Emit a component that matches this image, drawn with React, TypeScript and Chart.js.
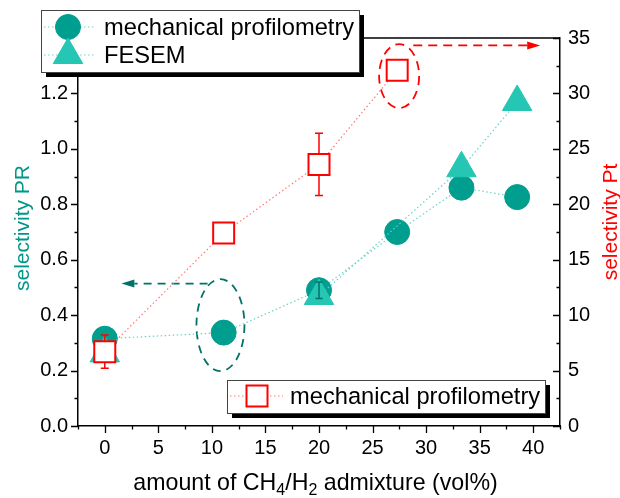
import React, { useEffect, useRef } from 'react';
import { Chart, registerables } from 'chart.js';

Chart.register(...registerables);

// ---------------- data ----------------
const profX = [0, 11.1, 20, 27.3, 33.3, 38.5];
const profPR = [0.315, 0.337, 0.49, 0.7, 0.86, 0.826];
const profPRErr = [0, 0, 0.03, 0, 0, 0];

const fesemX = [0, 20, 33.3, 38.5];
const fesemPR = [0.262, 0.469, 0.93, 1.169];

const ptX = [0, 11.1, 20, 27.3];
const profPt = [6.7, 17.4, 23.6, 32.1];
const profPtErr = [1.5, 0, 2.8, 0];

const xTickLabels = [0, 5, 10, 15, 20, 25, 30, 35, 40];
const prTickLabels = [0, 0.2, 0.4, 0.6, 0.8, 1.0, 1.2];
const ptTickLabels = [0, 5, 10, 15, 20, 25, 30, 35];

const seriesLabels = ['mechanical profilometry', 'FESEM', 'mechanical profilometry'];
const xTitleParts = [
  { text: 'amount of CH', sub: false },
  { text: '4', sub: true },
  { text: '/H', sub: false },
  { text: '2', sub: true },
  { text: ' admixture (vol%)', sub: false },
];
const prTitle = 'selectivity PR';
const ptTitle = 'selectivity Pt';

// highlight marks, in data coordinates
const prMarkCenter = { x: 10.8, y: 0.364 };
const prArrow = { y: 0.514, from: 9.6, to: 1.55 };
const ptMarkCenter = { x: 27.48, y: 31.56 };
const ptArrow = { y: 34.33, from: 28.8, to: 40.65 };

// ---------------- styles ----------------
const FONT = "'Liberation Sans', Arial, sans-serif";
const TEAL = 'rgb(0,158,142)';
const TURQ = 'rgb(38,198,180)';
const TEAL_LINE = 'rgb(105,210,202)';
const TEAL_DARK = 'rgb(0,115,105)';
const TITLE_TEAL = 'rgb(0,150,136)';
const RED = '#ff0000';
const RED_LINE = 'rgb(255,120,120)';
const LEGEND_FONT = 23.7;

function drawMarker(ctx, style, x, y, r, fill, stroke, lw) {
  ctx.save();
  ctx.beginPath();
  if (style === 'circle') {
    ctx.arc(x, y, r, 0, Math.PI * 2);
  } else if (style === 'triangle') {
    let rad = 0;
    ctx.moveTo(x + Math.sin(rad) * r, y - Math.cos(rad) * r);
    rad += (2 * Math.PI) / 3;
    ctx.lineTo(x + Math.sin(rad) * r, y - Math.cos(rad) * r);
    rad += (2 * Math.PI) / 3;
    ctx.lineTo(x + Math.sin(rad) * r, y - Math.cos(rad) * r);
    ctx.closePath();
  } else {
    const s = Math.SQRT1_2 * r;
    ctx.rect(x - s, y - s, 2 * s, 2 * s);
  }
  ctx.fillStyle = fill;
  ctx.fill();
  if (lw > 0) {
    ctx.lineWidth = lw;
    ctx.strokeStyle = stroke;
    ctx.stroke();
  }
  ctx.restore();
}

function dottedLine(ctx, x1, x2, y, color) {
  ctx.save();
  ctx.strokeStyle = color;
  ctx.lineWidth = 1.2;
  ctx.setLineDash([1.5, 2.5]);
  ctx.beginPath();
  ctx.moveTo(x1, y);
  ctx.lineTo(x2, y);
  ctx.stroke();
  ctx.restore();
}

function legendBox(ctx, x, y, w, h) {
  ctx.save();
  ctx.fillStyle = '#000';
  ctx.fillRect(x + 5, y + 5, w, h);
  ctx.fillStyle = '#fff';
  ctx.fillRect(x, y, w, h);
  ctx.strokeStyle = '#444';
  ctx.lineWidth = 1;
  ctx.strokeRect(x + 0.5, y + 0.5, w, h);
  ctx.restore();
}

function errorBars(ctx, xs, ys, errs, xScale, yScale, color, cap) {
  ctx.save();
  ctx.strokeStyle = color;
  ctx.lineWidth = 1.5;
  xs.forEach((xv, i) => {
    const e = errs[i];
    if (!e) return;
    const px = xScale.getPixelForValue(xv);
    const top = yScale.getPixelForValue(ys[i] + e);
    const bot = yScale.getPixelForValue(ys[i] - e);
    ctx.beginPath();
    ctx.moveTo(px, top);
    ctx.lineTo(px, bot);
    ctx.moveTo(px - cap, top);
    ctx.lineTo(px + cap, top);
    ctx.moveTo(px - cap, bot);
    ctx.lineTo(px + cap, bot);
    ctx.stroke();
  });
  ctx.restore();
}

function dashedArrow(ctx, x1, x2, y, color, dash) {
  const dir = Math.sign(x2 - x1);
  const headLen = 13;
  const headHalf = 4;
  ctx.save();
  ctx.strokeStyle = color;
  ctx.fillStyle = color;
  ctx.lineWidth = 1.8;
  ctx.setLineDash(dash);
  ctx.beginPath();
  ctx.moveTo(x1, y);
  ctx.lineTo(x2 - dir * headLen, y);
  ctx.stroke();
  ctx.setLineDash([]);
  ctx.beginPath();
  ctx.moveTo(x2, y);
  ctx.lineTo(x2 - dir * headLen, y - headHalf);
  ctx.lineTo(x2 - dir * headLen, y + headHalf);
  ctx.closePath();
  ctx.fill();
  ctx.restore();
}

function dashedEllipse(ctx, cx, cy, rx, ry, color, dash) {
  ctx.save();
  ctx.strokeStyle = color;
  ctx.lineWidth = 1.8;
  ctx.setLineDash(dash);
  ctx.beginPath();
  ctx.ellipse(cx, cy, rx, ry, 0, 0, Math.PI * 2);
  ctx.stroke();
  ctx.restore();
}

const decorPlugin = {
  id: 'decor',
  beforeDatasetsDraw(chart) {
    const { ctx, chartArea: a, scales } = chart;
    const xs = scales.x;
    const y1 = scales.y;
    const y2 = scales.y2;
    ctx.save();
    ctx.strokeStyle = '#000';
    ctx.lineWidth = 1.5;
    // top frame
    ctx.beginPath();
    ctx.moveTo(a.left, a.top);
    ctx.lineTo(a.right, a.top);
    ctx.stroke();
    ctx.lineWidth = 1.3;
    ctx.beginPath();
    for (let v = -2.5; v <= 42.5 + 1e-9; v += 2.5) {
      const major = Math.abs(v / 5 - Math.round(v / 5)) < 1e-6;
      const px = Math.round(xs.getPixelForValue(v)) + 0.5;
      ctx.moveTo(px, a.bottom);
      ctx.lineTo(px, a.bottom + (major ? 7 : 3.5));
    }
    for (let k = 0; k <= 14; k++) {
      const v = k / 10;
      const major = k % 2 === 0;
      const py = Math.round(y1.getPixelForValue(v)) + 0.5;
      ctx.moveTo(a.left, py);
      ctx.lineTo(a.left - (major ? 7 : 3.5), py);
    }
    for (let v = 0; v <= 35 + 1e-9; v += 2.5) {
      const major = Math.abs(v / 5 - Math.round(v / 5)) < 1e-6;
      const py = Math.round(y2.getPixelForValue(v)) + 0.5;
      ctx.moveTo(a.right, py);
      ctx.lineTo(a.right - (major ? 7 : 3.5), py);
    }
    ctx.stroke();
    ctx.restore();

    // highlight ellipses and arrows
    dashedEllipse(ctx, xs.getPixelForValue(prMarkCenter.x), y1.getPixelForValue(prMarkCenter.y), 24, 46, TEAL_DARK, [8, 6]);
    dashedArrow(ctx, xs.getPixelForValue(prArrow.from), xs.getPixelForValue(prArrow.to), y1.getPixelForValue(prArrow.y), TEAL_DARK, [8, 6]);
    dashedEllipse(ctx, xs.getPixelForValue(ptMarkCenter.x), y2.getPixelForValue(ptMarkCenter.y), 20, 32, RED, [9, 6]);
    dashedArrow(ctx, xs.getPixelForValue(ptArrow.from), xs.getPixelForValue(ptArrow.to), y2.getPixelForValue(ptArrow.y), RED, [9, 6]);
  },
  beforeDatasetDraw(chart, args) {
    if (args.index === 0) {
      errorBars(chart.ctx, ptX, profPt, profPtErr, chart.scales.x, chart.scales.y2, RED, 4);
    }
  },
  afterDatasetDraw(chart, args) {
    if (args.index === 1) {
      errorBars(chart.ctx, profX, profPR, profPRErr, chart.scales.x, chart.scales.y, TEAL_DARK, 3.5);
    }
  },
  afterDraw(chart) {
    const { ctx, chartArea: a } = chart;
    // x axis title with subscripts
    ctx.save();
    const fs = 23.2;
    const subFs = 16;
    let total = 0;
    xTitleParts.forEach((p) => {
      ctx.font = `${p.sub ? subFs : fs}px ${FONT}`;
      total += ctx.measureText(p.text).width;
    });
    let x = 315.5 - total / 2;
    const base = 490;
    ctx.fillStyle = '#000';
    ctx.textBaseline = 'alphabetic';
    ctx.textAlign = 'left';
    xTitleParts.forEach((p) => {
      ctx.font = `${p.sub ? subFs : fs}px ${FONT}`;
      ctx.fillText(p.text, x, p.sub ? base + 5 : base);
      x += ctx.measureText(p.text).width;
    });
    ctx.restore();

    // y titles (both reading upward)
    const cy = (a.top + a.bottom) / 2 - 4;
    ctx.save();
    ctx.font = `21px ${FONT}`;
    ctx.textAlign = 'center';
    ctx.textBaseline = 'alphabetic';
    ctx.fillStyle = TITLE_TEAL;
    ctx.translate(29, cy);
    ctx.rotate(-Math.PI / 2);
    ctx.fillText(prTitle, 0, 0);
    ctx.restore();
    ctx.save();
    ctx.font = `21px ${FONT}`;
    ctx.textAlign = 'center';
    ctx.textBaseline = 'alphabetic';
    ctx.fillStyle = RED;
    ctx.translate(617, cy - 6);
    ctx.rotate(-Math.PI / 2);
    ctx.fillText(ptTitle, 0, 0);
    ctx.restore();

    // legends
    ctx.save();
    ctx.font = `${LEGEND_FONT}px ${FONT}`;
    ctx.textBaseline = 'middle';
    ctx.textAlign = 'left';
    legendBox(ctx, 41, 10, 318, 62);
    dottedLine(ctx, 44, 96, 27, TEAL_LINE);
    drawMarker(ctx, 'circle', 68, 27, 12.5, TEAL, TEAL, 1);
    dottedLine(ctx, 44, 96, 55, TEAL_LINE);
    drawMarker(ctx, 'triangle', 68, 55, 17, TURQ, TURQ, 1);
    ctx.fillStyle = '#000';
    ctx.fillText(seriesLabels[0], 104, 28);
    ctx.fillText(seriesLabels[1], 104, 56);

    legendBox(ctx, 227, 380, 318, 33);
    dottedLine(ctx, 230, 283, 396, RED_LINE);
    drawMarker(ctx, 'rect', 257, 396, 14.85, '#fff', RED, 2);
    ctx.fillStyle = '#000';
    ctx.fillText(seriesLabels[2], 290, 397);
    ctx.restore();
  },
};

export default function App() {
  const ref = useRef<HTMLCanvasElement | null>(null);

  useEffect(() => {
    const canvas = ref.current;
    if (!canvas) return;
    const tickFont = { family: FONT, size: 20 };
    const chart = new Chart(canvas, {
      type: 'scatter',
      data: {
        datasets: [
          {
            label: seriesLabels[2],
            yAxisID: 'y2',
            data: ptX.map((x, i) => ({ x, y: profPt[i] })),
            showLine: true,
            borderColor: RED_LINE,
            borderWidth: 1.2,
            borderDash: [1.5, 2.5],
            pointStyle: 'rect',
            pointRadius: 14.85,
            pointBackgroundColor: '#fff',
            pointBorderColor: RED,
            pointBorderWidth: 2,
            clip: false,
          },
          {
            label: seriesLabels[1],
            yAxisID: 'y',
            data: fesemX.map((x, i) => ({ x, y: fesemPR[i] })),
            showLine: true,
            borderColor: TEAL_LINE,
            borderWidth: 1.2,
            borderDash: [1.5, 2.5],
            segment: {
              borderColor: (c) => (c.p0DataIndex === 0 ? 'rgba(0,0,0,0)' : TEAL_LINE),
            },
            pointStyle: 'triangle',
            pointRadius: 17,
            pointBackgroundColor: TURQ,
            pointBorderColor: TURQ,
            pointBorderWidth: 1,
            clip: false,
          },
          {
            label: seriesLabels[0],
            yAxisID: 'y',
            data: profX.map((x, i) => ({ x, y: profPR[i] })),
            showLine: true,
            borderColor: TEAL_LINE,
            borderWidth: 1.2,
            borderDash: [1.5, 2.5],
            pointStyle: 'circle',
            pointRadius: 12.5,
            pointBackgroundColor: TEAL,
            pointBorderColor: TEAL,
            pointBorderWidth: 1,
            clip: false,
          },
        ],
      },
      options: {
        responsive: true,
        maintainAspectRatio: false,
        animation: false,
        events: [],
        layout: { padding: { top: 38, left: 0, right: 0, bottom: 0 } },
        plugins: {
          legend: { display: false },
          tooltip: { enabled: false },
          title: { display: false },
        },
        scales: {
          x: {
            type: 'linear',
            position: 'bottom',
            min: -2.5,
            max: 42.5,
            afterBuildTicks: (s) => {
              s.ticks = xTickLabels.map((value) => ({ value }));
            },
            afterFit: (s) => {
              s.height = 72;
            },
            grid: { display: false, drawTicks: false },
            border: { display: true, color: '#000', width: 1.5 },
            ticks: {
              font: tickFont,
              color: '#000',
              padding: 10,
              maxRotation: 0,
              autoSkip: false,
              callback: (v) => String(v),
            },
          },
          y: {
            type: 'linear',
            position: 'left',
            min: 0,
            max: 1.4,
            afterBuildTicks: (s) => {
              s.ticks = prTickLabels.map((value) => ({ value }));
            },
            afterFit: (s) => {
              s.width = 78;
            },
            grid: { display: false, drawTicks: false },
            border: { display: true, color: '#000', width: 1.5 },
            ticks: {
              font: tickFont,
              color: '#000',
              padding: 10,
              autoSkip: false,
              callback: (v) => Number(v).toFixed(1),
            },
          },
          y2: {
            type: 'linear',
            position: 'right',
            min: 0,
            max: 35,
            afterBuildTicks: (s) => {
              s.ticks = ptTickLabels.map((value) => ({ value }));
            },
            afterFit: (s) => {
              s.width = 60;
            },
            grid: { display: false, drawTicks: false },
            border: { display: true, color: '#000', width: 1.5 },
            ticks: {
              font: tickFont,
              color: '#000',
              padding: 8,
              autoSkip: false,
              callback: (v) => String(v),
            },
          },
        },
      },
      plugins: [decorPlugin],
    });
    return () => chart.destroy();
  }, []);

  return (
    <div style={{ position: 'fixed', left: 0, top: 0, width: 620, height: 498, background: '#fff' }}>
      <canvas ref={ref} />
    </div>
  );
}
